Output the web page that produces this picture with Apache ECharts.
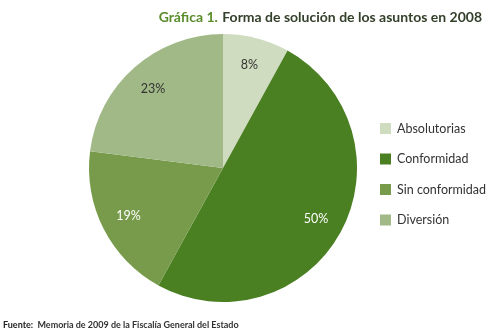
<!DOCTYPE html>
<html>
<head>
<meta charset="utf-8">
<script src="https://cdn.jsdelivr.net/npm/echarts@6/dist/echarts.min.js"></script>
<style>
html, body { margin: 0; padding: 0; background: #fff; }
#chart { width: 495px; height: 330px; }
</style>
</head>
<body>
<div id="chart"></div>
<script>
// datos de la gráfica
const categorias = ['Absolutorias', 'Conformidad', 'Sin conformidad', 'Diversión']
const valores = [8, 50, 19, 23]
const colores = ['#d0dcbf', '#4a7f22', '#779b4b', '#a1b987']
const colorTexto = ['#333333', '#ffffff', '#ffffff', '#333333']

const datos = categorias.map((c, i) => ({
    name: c,
    value: valores[i],
    itemStyle: { color: colores[i] },
    label: { color: colorTexto[i] }
}))

let myChart = echarts.init(document.getElementById('chart'))
let option = {
    animation: false,
    textStyle: { fontFamily: 'Lato' },
    title: [{
        text: '{a|Gráfica 1.} {b|Forma de solución de los asuntos en 2008}',
        right: 8,
        top: 3,
        textStyle: {
            rich: {
                a: { color: '#5a8c2c', fontSize: 14, fontWeight: 'bold', fontFamily: 'Lato' },
                b: { color: '#33402a', fontSize: 14, fontWeight: 'bold', fontFamily: 'Lato' }
            }
        }
    }, {
        text: '{a|Fuente:} {b|Memoria de 2009 de la Fiscalía General del Estado}',
        left: 3,
        top: 316,
        padding: 0,
        textStyle: {
            rich: {
                a: { color: '#222', fontSize: 9, fontWeight: 'bold', fontFamily: 'Lato' },
                b: { color: '#333', fontSize: 9, fontFamily: 'Lato' }
            }
        }
    }],
    legend: {
        orient: 'vertical',
        left: 380,
        top: 122,
        padding: 0,
        itemWidth: 11,
        itemHeight: 11,
        itemGap: 17.5,
        icon: 'rect',
        data: categorias,
        textStyle: { color: '#333', fontSize: 12.5, fontFamily: 'Lato', padding: [0, 0, 0, 1] }
    },
    series: [
    {
        type: 'pie',
        center: [223, 168],
        radius: [0, 134],
        startAngle: 90,
        clockwise: true,
        data: datos,
        label: { show: false },
        labelLine: { show: false },
        itemStyle: { borderWidth: 0 },
        silent: true
    },
    {
        // serie transparente sólo para colocar las etiquetas más afuera
        type: 'pie',
        center: [223, 168],
        radius: [72, 134],
        startAngle: 90,
        clockwise: true,
        data: datos.map(d => ({ name: d.name, value: d.value, label: d.label })),
        itemStyle: { color: 'rgba(0,0,0,0)' },
        label: {
            show: true,
            position: 'inside',
            formatter: '{c}%',
            fontSize: 12.5,
            fontFamily: 'Lato'
        },
        labelLine: { show: false },
        silent: true
    }
    ]
}
myChart.setOption(option)
</script>
</body>
</html>
